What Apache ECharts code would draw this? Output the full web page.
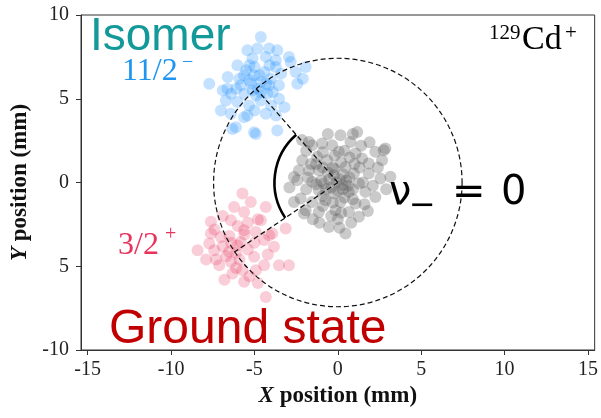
<!DOCTYPE html>
<html>
<head>
<meta charset="utf-8">
<script src="https://cdn.jsdelivr.net/npm/echarts@6/dist/echarts.min.js"></script>
<style>html,body{margin:0;padding:0;background:#fff}#c{width:601px;height:418px}</style>
</head>
<body>
<div id="c"></div>
<script>
// ---- data (mm) ----
const xTicks = [-15, -10, -5, 0, 5, 10, 15];
const xTickLabels = ['-15', '-10', '-5', '0', '5', '10', '15'];
const yTicks = [-10, -5, 0, 5, 10];
const yTickLabels = ['-10', '5', '0', '5', '10'];

const groundCenter = [0, 0];
const isomerCenter = [-4.9, 5.6];
const gsCenter = [-6.2, -4.15];
const ringRadius = 7.45;
const angleArcRadius = 3.8;

const grayPoints = [
  [1.16,3.02],[0.16,2.82],[0.76,2.42],[-0.94,2.33],[-1.73,2.42],[-0.34,2.23],[0.06,1.83],
  [-2.13,1.33],[-1.24,1.53],[-0.64,1.33],[1.06,1.73],[1.45,1.43],[2.25,1.83],[2.75,1.93],
  [2.65,1.33],[1.85,1.13],[-2.33,0.73],[-1.73,0.73],[-1.14,0.73],[0.46,0.93],[-0.24,0.44],
  [0.96,0.54],[1.85,0.54],[2.55,0.24],[3.15,0.34],[-2.43,0.14],[-1.54,0.04],[-0.84,-0.06],
  [0.26,-0.16],[1.26,-0.06],[-1.14,-0.46],[-0.24,-0.66],[0.66,-0.56],[1.65,-0.56],[-2.23,-0.96],
  [2.25,-0.86],[-1.54,-1.16],[-0.74,-1.06],[0.16,-1.16],[1.06,-1.25],[-1.93,-1.65],[-1.14,-1.76],
  [-0.14,-1.65],[0.66,-1.76],[1.26,-2.05],[-0.54,-2.65],[0.46,-3.04],[2.85,2.03],[-2.15,2.53],
  [-1.55,2.23],[-0.5,0.2],[0.3,0.5],[-0.9,0.9],[0.0,-0.5],[-0.4,-0.3],[0.5,0.1],[-1.3,-0.1],
  [0.9,-0.4],[-0.6,0.6],[0.2,1.2],[-0.2,1.6],[1.5,0.0],[-0.9,-0.8],[0.4,-0.9],[-1.8,0.3],
  [-2.63,0.33],[-2.63,-1.16],[-2.03,-1.85],[0.9,2.9],[-1.5,-2.2],[0.0,-2.2],[1.6,-1.3],
  [-0.3,0.9],[0.7,1.5],[-1.0,0.1],[0.1,0.2],
  [-1.9,1.9],[1.9,2.4],[-0.9,1.8],[0.4,1.9],[1.3,0.9],[2.1,-0.2],[2.9,-0.4],[-2.9,-0.3],
  [-1.9,-0.4],[-0.3,-1.2],[0.9,-1.0],[1.8,-1.7],[-0.9,-1.4],[0.2,-1.8],[-0.4,-2.0],[0.8,-2.4],
  [-1.3,1.1],[0.7,0.3],[-0.1,0.0],[0.3,-0.4],[-0.7,-0.4],[0.6,-0.2],[-0.2,0.8],[1.0,1.1],
  [-1.6,1.1],[2.4,0.9],[0.1,-2.7],[-1.1,-2.4],[1.4,2.2],[-0.6,2.9]
];
const bluePoints = [
  [-4.62,8.69],[-5.42,7.9],[-4.82,8.0],[-4.12,8.0],[-3.63,7.9],[-6.02,7.0],[-5.12,7.4],
  [-4.32,7.5],[-3.72,7.3],[-2.83,7.2],[-1.93,6.9],[-2.53,6.6],[-7.71,5.9],[-6.62,5.6],
  [-5.62,6.4],[-5.02,6.4],[-4.62,6.0],[-4.02,6.2],[-3.53,5.8],[-2.43,5.9],[-5.82,5.8],
  [-5.12,5.5],[-4.22,5.3],[-3.53,5.0],[-6.71,4.9],[-6.02,4.8],[-5.32,4.6],[-4.62,4.9],
  [-7.01,4.3],[-6.41,4.1],[-5.62,3.9],[-4.32,4.1],[-6.11,3.3],[-5.02,3.0],[-3.63,3.1],
  [-6.32,3.2],[-5.42,4.0],[-4.92,2.9],[-4.12,5.8],[-3.72,6.9],[-2.93,7.5],[-5.3,6.1],
  [-4.8,5.6],[-5.6,5.3],[-4.4,6.6],[-5.0,6.9],[-4.3,5.9],[-5.9,6.2],[-3.9,5.4],[-4.9,5.2],
  [-6.4,5.3],[-5.3,7.0],[-3.4,6.5],[-6.9,5.5],[-3.2,4.5],[-4.0,4.6],
  [-5.2,5.9],[-4.6,5.4],[-5.5,6.7],[-4.7,6.4],[-6.1,5.6],[-5.0,4.3],[-3.7,4.0],[-6.6,6.3],
  [-4.1,7.0],[-2.1,6.2]
];
const redPoints = [
  [-5.72,-0.66],[-5.22,-1.16],[-6.22,-1.46],[-5.62,-1.76],[-4.32,-1.46],[-7.61,-2.35],
  [-6.41,-2.25],[-4.62,-2.25],[-3.93,-3.04],[-3.13,-2.75],[-7.61,-3.04],[-7.01,-3.25],
  [-5.62,-2.85],[-4.92,-2.95],[-7.71,-3.64],[-5.82,-3.55],[-4.42,-3.44],[-8.41,-4.04],
  [-7.41,-4.04],[-6.52,-4.14],[-6.02,-3.74],[-3.83,-3.84],[-5.02,-4.44],[-7.11,-4.94],
  [-6.41,-4.74],[-4.42,-4.94],[-3.53,-4.94],[-2.93,-4.94],[-6.32,-5.43],[-5.72,-5.24],
  [-4.92,-5.24],[-5.62,-5.93],[-4.32,-6.83],[-4.12,-3.15],[-6.4,-3.6],[-6.7,-4.4],
  [-5.9,-4.6],[-6.9,-3.8],[-5.4,-4.0],[-4.8,-2.2],[-5.4,-2.4],[-6.9,-2.0],[-6.0,-2.6],
  [-7.9,-4.6],[-6.8,-5.8],[-4.8,-6.0],
  [-6.1,-4.2],[-6.5,-3.2],[-5.6,-3.1],[-7.3,-4.6],[-5.3,-5.6],[-6.1,-5.1],[-5.0,-3.6],
  [-7.4,-2.8],[-4.2,-4.3]
];

const SERIF = '"Liberation Serif", "Times New Roman", serif';
const SANS = '"Liberation Sans", Arial, sans-serif';
const MATH = '"DejaVu Sans", sans-serif';

const chart = echarts.init(document.getElementById('c'), null, {renderer: 'canvas'});

function txt(text, x, y, size, family, color) {
  return {
    type: 'text', x: x, y: y, z: 100,
    style: {text: text, fill: color, fontSize: size, fontFamily: family,
      align: 'left', verticalAlign: 'middle'}
  };
}

const option = {
  animation: false,
  backgroundColor: '#fff',
  grid: {left: 81, right: 5, top: 15, bottom: 68, show: true, borderColor: '#333', borderWidth: 1, backgroundColor: 'transparent'},
  xAxis: {
    type: 'value', min: -15.4, max: 15.4,
    name: '{i|X} position (mm)', nameLocation: 'middle', nameGap: 35,
    nameTextStyle: {fontFamily: SERIF, fontWeight: 'bold', fontSize: 23, color: '#111',
      rich: {i: {fontFamily: SERIF, fontWeight: 'bold', fontStyle: 'italic', fontSize: 23, color: '#111'}}},
    axisLine: {show: true, onZero: false, lineStyle: {color: '#333', width: 1}},
    axisTick: {show: true, length: 5, customValues: xTicks, lineStyle: {color: '#333'}},
    axisLabel: {customValues: xTicks, margin: 10, fontFamily: SERIF, fontSize: 20, color: '#222',
      formatter: v => { const i = xTicks.indexOf(v); return i >= 0 ? xTickLabels[i] : ''; }},
    splitLine: {show: false}
  },
  yAxis: {
    type: 'value', min: -10, max: 10,
    name: '{i|Y} position (mm)', nameLocation: 'middle', nameGap: 41,
    nameTextStyle: {fontFamily: SERIF, fontWeight: 'bold', fontSize: 23, color: '#111',
      rich: {i: {fontFamily: SERIF, fontWeight: 'bold', fontStyle: 'italic', fontSize: 23, color: '#111'}}},
    axisLine: {show: true, onZero: false, lineStyle: {color: '#333', width: 1}},
    axisTick: {show: true, length: 5, customValues: yTicks, lineStyle: {color: '#333'}},
    axisLabel: {customValues: yTicks, margin: 12, fontFamily: SERIF, fontSize: 20, color: '#222',
      formatter: v => { const i = yTicks.indexOf(v); return i >= 0 ? yTickLabels[i] : ''; }},
    splitLine: {show: false}
  },
  series: [
    {type: 'scatter', name: 'ground', data: grayPoints, symbolSize: 12, z: 2,
      itemStyle: {color: 'rgba(90,90,90,0.4)', borderWidth: 0}},
    {type: 'scatter', name: 'isomer', data: bluePoints, symbolSize: 12, z: 2,
      itemStyle: {color: 'rgba(30,144,255,0.33)', borderWidth: 0}},
    {type: 'scatter', name: 'gs', data: redPoints, symbolSize: 12, z: 2,
      itemStyle: {color: 'rgba(228,28,72,0.27)', borderWidth: 0}},
    {type: 'line', data: [groundCenter, isomerCenter], symbol: 'none', z: 5, silent: true,
      lineStyle: {color: '#111', width: 1.3, type: [5, 3]}},
    {type: 'line', data: [groundCenter, gsCenter], symbol: 'none', z: 5, silent: true,
      lineStyle: {color: '#111', width: 1.3, type: [5, 3]}},
    {type: 'custom', z: 5, silent: true, clip: false,
      data: [[groundCenter[0], groundCenter[1], ringRadius]],
      renderItem: function (params, api) {
        const c = api.coord([api.value(0), api.value(1)]);
        const r = api.size([api.value(2), 0])[0];
        return {type: 'circle', shape: {cx: c[0], cy: c[1], r: r},
          style: {fill: 'none', stroke: '#111', lineWidth: 1.2, lineDash: [5, 3]}};
      }},
    {type: 'custom', z: 6, silent: true, clip: false,
      data: [[groundCenter[0], groundCenter[1], angleArcRadius]],
      renderItem: function (params, api) {
        const c = api.coord([api.value(0), api.value(1)]);
        const r = api.size([api.value(2), 0])[0];
        const pb = api.coord(isomerCenter);
        const pr = api.coord(gsCenter);
        const aB = Math.atan2(pb[1] - c[1], pb[0] - c[0]);
        const aR = Math.atan2(pr[1] - c[1], pr[0] - c[0]);
        return {type: 'arc', shape: {cx: c[0], cy: c[1], r: r, startAngle: aR, endAngle: aB + 2 * Math.PI, clockwise: true},
          style: {fill: 'none', stroke: '#000', lineWidth: 2.6}};
      }}
  ],
  graphic: [
    txt('Isomer', 90, 37, 46, SANS, '#14999a'),
    txt('11/2', 122, 72, 32, SERIF, '#1e96f0'),
    txt('\u2212', 182, 63, 20, SERIF, '#1e96f0'),
    txt('3/2', 118, 246, 32, SERIF, '#e8335c'),
    txt('+', 165, 235, 20, SERIF, '#e8335c'),
    txt('Ground state', 109, 330, 48, SANS, '#c00000'),
    txt('\u03bd', 389, 194, 40, MATH, '#000'),
    txt('\u2212', 409, 207, 32, MATH, '#000'),
    txt('=', 452, 194, 40, MATH, '#000'),
    txt('0', 501, 194, 40, MATH, '#000'),
    txt('129', 489, 33, 21, SERIF, '#000'),
    txt('Cd', 522, 40, 34, SERIF, '#000'),
    txt('+', 565, 33, 21, SERIF, '#000')
  ]
};
chart.setOption(option);
</script>
</body>
</html>
